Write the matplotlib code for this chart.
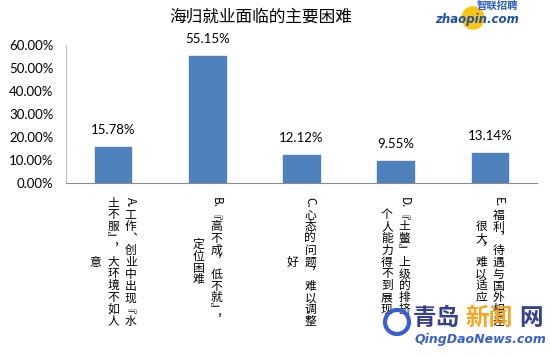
import matplotlib
matplotlib.use("Agg")
import matplotlib.pyplot as plt
from matplotlib.patches import Ellipse

plt.rcParams['font.family'] = ['Noto Sans CJK SC', 'DejaVu Sans']

title = "海归就业面临的主要困难"
categories = [
    ["A.|工作︑创业中出现﹃水", "土不服﹄︐大环境不如人", "意"],
    ["B.|﹃高不成︐低不就﹄︐", "定位困难"],
    ["C.|心态的问题︐难以调整", "好"],
    ["D.|﹃土鳖﹄上级的排挤︐", "个人能力得不到展现"],
    ["E.|福利︐待遇与国外相差", "很大︐难以适应"],
]
values = [15.78, 55.15, 12.12, 9.55, 13.14]
yticks = [0, 10, 20, 30, 40, 50, 60]
ytick_labels = ["0.00%", "10.00%", "20.00%", "30.00%", "40.00%", "50.00%", "60.00%"]

fig = plt.figure(figsize=(5.5, 3.56), dpi=100)
ax = fig.add_axes([66/550, 1-183/356, (537-66)/550, (183-45)/356])

x = list(range(len(values)))
ax.bar(x, values, width=0.39, color='#4F81BD', edgecolor='#4F81BD', zorder=2)
ax.set_xlim(-0.5, len(values)-0.5)
ax.set_ylim(0, 60)
ax.set_yticks(yticks)
ax.set_yticklabels(ytick_labels, fontfamily='Lato', fontsize=9.5)
ax.tick_params(axis='y', length=0, pad=9)
ax.set_xticks([])
for s in ['top', 'right']:
    ax.spines[s].set_visible(False)
ax.spines['left'].set_color('#bfbfbf')
ax.spines['bottom'].set_color('#8c8c8c')

for xi, v in zip(x, values):
    ax.annotate(f"{v:.2f}%", xy=(xi, v), xytext=(0, 8), textcoords='offset points',
                ha='center', va='bottom', fontsize=9.5, fontfamily='Lato')

# vertical (East Asian) category labels
fs = 8.5
adv = fs * 1.0
lat_adv = fs * 1.05
line_gap = 12.7
top_off = -10.0

def tokens(line):
    if '|' in line:
        lat, rest = line.split('|')
        return [('lat', lat)] + [('cjk', c) for c in rest]
    return [('cjk', c) for c in line]

def tok_len(t):
    return lat_adv if t[0] == 'lat' else adv

for xi, lines in zip(x, categories):
    toks = [tokens(l) for l in lines]
    lens = [sum(tok_len(t) for t in tl) for tl in toks]
    lmax = max(lens)
    n = len(lines)
    for j, tl in enumerate(toks):
        dx = ((n - 1) / 2 - j) * line_gap
        y = top_off - (lmax - lens[j]) / 2
        for t in tl:
            L = tok_len(t)
            if t[0] == 'lat':
                ax.annotate(t[1], xy=(xi, 0), xycoords=('data', 'axes fraction'),
                            xytext=(dx, y), textcoords='offset points',
                            rotation=270, ha='center', va='top', fontsize=fs,
                            annotation_clip=False)
            else:
                ax.annotate(t[1], xy=(xi, 0), xycoords=('data', 'axes fraction'),
                            xytext=(dx, y - L / 2), textcoords='offset points',
                            ha='center', va='center', fontsize=fs,
                            annotation_clip=False)
            y -= L

fig.text(261/550, 1-17/356, title, ha='center', va='center', fontsize=12)

# watermarks
fig.patches.append(Ellipse((473/550, 1-18/356), 22/550, 22/356, transform=fig.transFigure,
                           color='#f7c514', zorder=0))
fig.text(497/550, 1-6/356, "智联招聘", ha='center', va='center', fontsize=7.5,
         color='#2a5fbf', style='italic', fontweight='bold')
fig.text(477/550, 1-19/356, "zhaopin.com", ha='center', va='center', fontsize=8.5,
         color='#1f4fa8', style='italic', fontweight='bold', fontfamily='DejaVu Sans')
fig.text(436/550, 1-318/356, "青岛", ha='center', va='center', fontsize=17,
         color='#34408f', fontweight='bold')
fig.text(489/550, 1-318/356, "新闻", ha='center', va='center', fontsize=17,
         color='#f5a623', fontweight='bold')
fig.text(531/550, 1-318/356, "网", ha='center', va='center', fontsize=17,
         color='#34408f', fontweight='bold')
fig.text(480/550, 1-339/356, "QingDaoNews.com", ha='center', va='center', fontsize=9,
         color='#3a5fd0', style='italic', fontweight='bold', fontfamily='DejaVu Sans')
fig.patches.append(Ellipse((397/550, 1-322/356), 24/550, 24/356, transform=fig.transFigure,
                           fill=False, ec='#3a5fd0', lw=3, zorder=5))

fig.savefig("out.png", dpi=100)
